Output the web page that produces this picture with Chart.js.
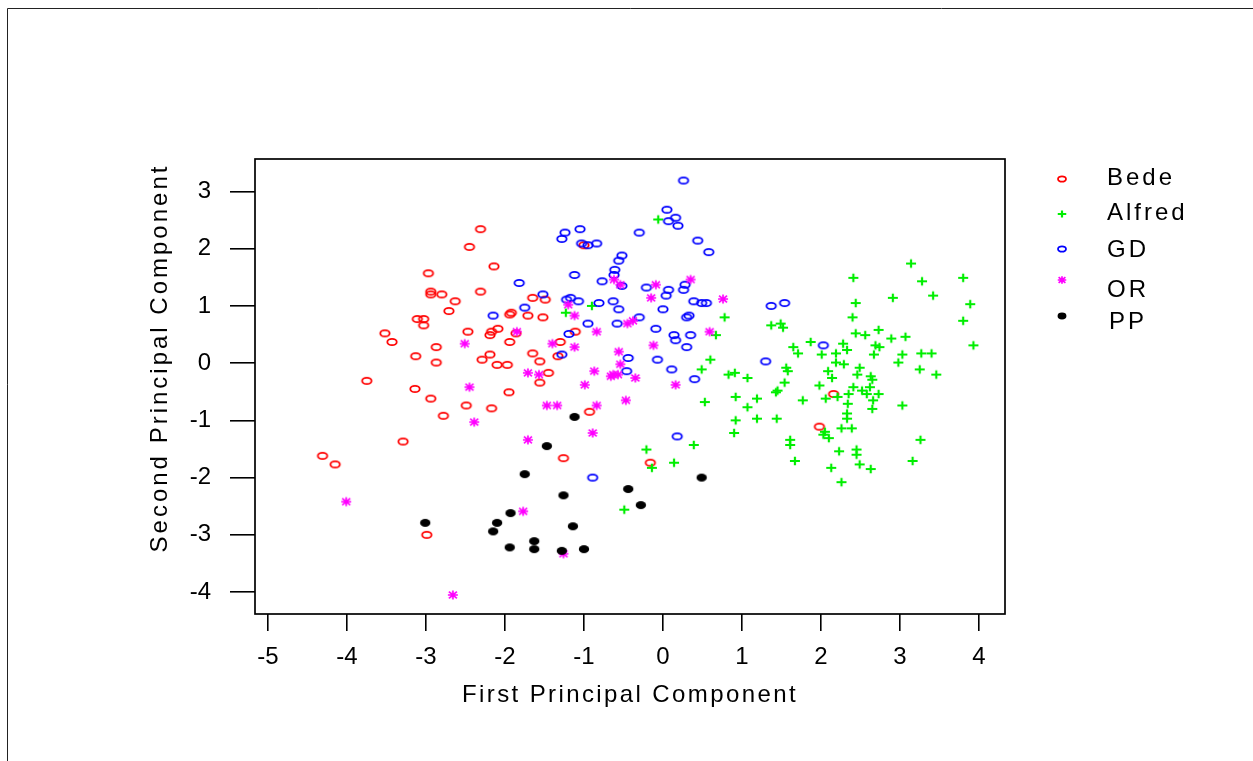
<!DOCTYPE html>
<html>
<head>
<meta charset="utf-8">
<title>Principal components by text</title>
<script src="https://cdn.jsdelivr.net/npm/chart.js@4.4.1/dist/chart.umd.min.js"></script>
<style>
    html, body { margin: 0; padding: 0; background: #fff; }
    #pca-chart { display: block; }
</style>
</head>
<body>
<canvas id="pca-chart" width="1253" height="761"></canvas>
<script>
// Scores on the first and second principal component, one list per text
const bedeScores = [
    [-2.31, 2.34], [-2.45, 2.03], [-2.14, 1.69], [-2.97, 1.57], [-2.94, 1.25], [-2.94, 1.20], [-2.80, 1.20], [-2.31, 1.25], [-2.63, 1.08], [-2.71, 0.91],
    [-3.11, 0.77], [-3.03, 0.77], [-3.03, 0.66], [-3.52, 0.52], [-3.43, 0.37], [-2.47, 0.55], [-2.19, 0.49], [-2.17, 0.55], [-2.09, 0.60], [-2.87, 0.28],
    [-3.13, 0.12], [-2.87, 0.01], [-2.29, 0.06], [-2.19, 0.15], [-2.10, -0.03], [-3.75, -0.31], [-3.14, -0.45], [-2.94, -0.62], [-2.49, -0.74], [-2.17, -0.79],
    [-2.78, -0.92], [-3.29, -1.37], [-4.31, -1.62], [-4.15, -1.77], [-2.99, -3.00], [-1.97, -0.03], [-1.95, -0.51], [-1.00, 2.06], [-1.65, 1.14], [-1.49, 1.11],
    [-1.94, 0.85], [-1.92, 0.88], [-1.71, 0.83], [-1.52, 0.80], [-1.86, 0.52], [-1.11, 0.55], [-1.94, 0.37], [-1.30, 0.37], [-1.65, 0.17], [-1.56, 0.03],
    [-1.33, 0.12], [-1.45, -0.17], [-1.56, -0.34], [-0.93, -0.85], [-1.26, -1.66], [-0.16, -1.74], [2.16, -0.54], [1.98, -1.11]
];
const alfredScores = [
    [-0.06, 2.51], [-0.90, 1.00], [-1.23, 0.88], [0.78, 0.80], [0.67, 0.49], [0.60, 0.06], [0.49, -0.11], [0.83, -0.20], [0.91, -0.17], [1.07, -0.26],
    [0.53, -0.68], [0.92, -0.59], [1.07, -0.77], [0.92, -1.00], [0.90, -1.22], [0.39, -1.43], [-0.21, -1.51], [-0.14, -1.83], [0.14, -1.74], [-0.49, -2.56],
    [3.14, 1.74], [2.41, 1.49], [3.28, 1.43], [3.80, 1.49], [3.42, 1.18], [2.91, 1.14], [3.89, 1.03], [2.44, 1.05], [2.40, 0.80], [3.80, 0.74],
    [1.37, 0.66], [1.49, 0.69], [1.52, 0.62], [2.44, 0.52], [2.56, 0.49], [2.73, 0.58], [2.89, 0.43], [3.07, 0.46], [1.87, 0.37], [2.28, 0.34],
    [2.33, 0.23], [2.19, 0.17], [2.69, 0.31], [2.74, 0.28], [1.65, 0.28], [1.71, 0.17], [2.01, 0.15], [2.67, 0.15], [3.03, 0.15], [3.27, 0.17],
    [3.40, 0.17], [3.93, 0.31], [2.19, 0.01], [2.29, -0.02], [2.98, 0.01], [1.56, -0.08], [1.58, -0.14], [2.09, -0.14], [2.14, -0.26], [2.49, -0.08],
    [2.46, -0.20], [2.63, -0.23], [2.65, -0.29], [3.25, -0.11], [3.46, -0.20], [1.54, -0.34], [1.98, -0.39], [2.41, -0.42], [2.62, -0.42], [1.45, -0.48],
    [1.43, -0.51], [2.52, -0.48], [2.58, -0.54], [2.73, -0.54], [2.21, -0.59], [2.35, -0.54], [2.06, -0.62], [1.19, -0.62], [1.77, -0.65], [2.66, -0.65],
    [2.65, -0.80], [2.34, -0.71], [3.03, -0.74], [2.33, -0.88], [2.33, -0.97], [1.19, -0.97], [1.44, -0.97], [2.05, -1.20], [2.03, -1.25], [2.10, -1.31],
    [2.26, -1.14], [2.39, -1.14], [1.61, -1.34], [1.61, -1.43], [3.26, -1.34], [2.23, -1.54], [2.45, -1.51], [2.45, -1.60], [1.67, -1.71], [3.16, -1.71],
    [2.13, -1.83], [2.49, -1.77], [2.63, -1.85], [2.26, -2.08]
];
const gdScores = [
    [-2.15, 0.83], [0.26, 3.19], [0.05, 2.68], [0.07, 2.48], [0.16, 2.54], [0.19, 2.40], [-0.30, 2.28], [-1.24, 2.28], [-1.28, 2.17], [-1.05, 2.34],
    [0.44, 2.14], [0.58, 1.94], [-1.03, 2.09], [-0.95, 2.06], [-0.84, 2.09], [-0.52, 1.88], [-0.56, 1.79], [-0.61, 1.63], [-0.62, 1.54], [-1.12, 1.54],
    [-0.77, 1.43], [-0.52, 1.35], [-1.82, 1.40], [-0.21, 1.32], [0.07, 1.28], [0.04, 1.18], [0.28, 1.37], [0.26, 1.28], [-1.52, 1.20], [-1.22, 1.11],
    [-1.17, 1.14], [-1.07, 1.08], [-0.81, 1.05], [-0.63, 1.08], [0.39, 1.08], [0.49, 1.05], [0.55, 1.05], [-1.75, 0.97], [-0.56, 0.94], [0.00, 0.94],
    [-0.30, 0.80], [0.30, 0.80], [0.33, 0.83], [-0.95, 0.69], [-0.58, 0.69], [-0.09, 0.60], [-1.19, 0.51], [0.14, 0.49], [0.16, 0.40], [0.35, 0.49],
    [0.30, 0.28], [-1.28, 0.15], [-0.44, 0.09], [-0.46, -0.14], [-0.07, 0.06], [0.11, -0.11], [0.40, -0.28], [0.18, -1.28], [-0.89, -2.00], [1.37, 1.00],
    [1.54, 1.05], [2.03, 0.31], [1.30, 0.03]
];
const orScores = [
    [-2.51, 0.34], [-2.45, -0.42], [-2.39, -1.03], [-4.01, -2.42], [-2.66, -4.05], [-0.62, 1.46], [-0.54, 1.37], [-0.09, 1.37], [0.35, 1.46], [-0.15, 1.14],
    [0.76, 1.12], [-1.20, 1.02], [-1.12, 0.83], [-0.45, 0.69], [-0.38, 0.74], [-1.85, 0.55], [-0.84, 0.55], [0.59, 0.55], [-1.40, 0.34], [-1.12, 0.28],
    [-0.12, 0.31], [-0.56, 0.20], [-0.54, -0.02], [-1.71, -0.17], [-1.57, -0.20], [-0.87, -0.14], [-0.66, -0.23], [-0.63, -0.20], [-0.57, -0.20], [-0.35, -0.26],
    [-0.99, -0.38], [0.16, -0.38], [-1.47, -0.74], [-1.34, -0.74], [-0.84, -0.74], [-0.47, -0.65], [-0.89, -1.22], [-1.71, -1.34], [-1.77, -2.59], [-1.26, -3.33]
];
const ppScores = [
    [-3.01, -2.79], [-2.10, -2.79], [-2.15, -2.94], [-1.12, -0.94], [-1.47, -1.45], [-1.75, -1.94], [0.49, -2.00], [-1.26, -2.31], [-0.44, -2.20], [-0.28, -2.48],
    [-1.93, -2.62], [-1.14, -2.85], [-1.63, -3.11], [-1.94, -3.22], [-1.63, -3.25], [-1.28, -3.28], [-1.00, -3.25]
];

const seriesNames = ['Bede', 'Alfred', 'GD', 'OR', 'PP'];
const xTickValues = [-5, -4, -3, -2, -1, 0, 1, 2, 3, 4];
const yTickValues = [-4, -3, -2, -1, 0, 1, 2, 3];
const xTitle = 'First Principal Component';
const yTitle = 'Second Principal Component';

const FONT = '"Liberation Sans", Arial, Helvetica, sans-serif';

// Small canvases used as point styles (R-like symbols)
function makeMarker(kind, color, s) {
    const c = document.createElement('canvas');
    c.width = 16;
    c.height = 14;
    const g = c.getContext('2d');
    const cx = 8, cy = 7;
    g.strokeStyle = color;
    g.fillStyle = color;
    g.lineCap = 'butt';
    if (kind === 'ring') {
        g.lineWidth = 1.8;
        g.beginPath();
        g.ellipse(cx, cy, 4.7 * s, 3.2 * s, 0, 0, Math.PI * 2);
        g.stroke();
    } else if (kind === 'dot') {
        g.beginPath();
        g.ellipse(cx, cy, 5.2 * s, 4 * s, 0, 0, Math.PI * 2);
        g.fill();
    } else if (kind === 'plus') {
        g.lineWidth = 2.2;
        g.beginPath();
        g.moveTo(cx - 5 * s, cy); g.lineTo(cx + 5 * s, cy);
        g.moveTo(cx, cy - 4.2 * s); g.lineTo(cx, cy + 4.2 * s);
        g.stroke();
    } else if (kind === 'star') {
        g.lineWidth = 1.7;
        g.beginPath();
        g.moveTo(cx - 5 * s, cy); g.lineTo(cx + 5 * s, cy);
        g.moveTo(cx, cy - 4.5 * s); g.lineTo(cx, cy + 4.5 * s);
        g.moveTo(cx - 4 * s, cy - 3.4 * s); g.lineTo(cx + 4 * s, cy + 3.4 * s);
        g.moveTo(cx - 4 * s, cy + 3.4 * s); g.lineTo(cx + 4 * s, cy - 3.4 * s);
        g.stroke();
    }
    return c;
}

const seriesStyle = [
    { kind: 'ring', color: '#ff0000' },
    { kind: 'plus', color: '#00ee00' },
    { kind: 'ring', color: '#0000ff' },
    { kind: 'star', color: '#ff00ff' },
    { kind: 'dot', color: '#000000' }
];
const allScores = [bedeScores, alfredScores, gdScores, orScores, ppScores];

const datasets = allScores.map((scores, i) => ({
    label: seriesNames[i],
    data: scores.map(p => ({ x: p[0], y: p[1] })),
    pointStyle: makeMarker(seriesStyle[i].kind, seriesStyle[i].color, 1),
    pointRadius: 5,
    // PP drawn last (on top), Bede first
    order: 5 - i
}));

// Plot frame, outer border, axis titles and legend
const decorations = {
    id: 'decorations',
    afterDraw(chart) {
        const ctx = chart.ctx;
        const area = chart.chartArea;
        ctx.save();

        // outer page frame (top and left edges)
        ctx.strokeStyle = '#222';
        ctx.lineWidth = 1;
        ctx.beginPath();
        ctx.moveTo(7.5, 761);
        ctx.lineTo(7.5, 8.5);
        ctx.lineTo(1253, 8.5);
        ctx.stroke();

        // box around the plot region
        ctx.strokeStyle = '#000';
        ctx.lineWidth = 1.7;
        ctx.strokeRect(area.left, area.top, area.right - area.left, area.bottom - area.top);

        // axis titles
        ctx.fillStyle = '#000';
        ctx.font = '24px ' + FONT;
        ctx.textBaseline = 'middle';
        ctx.textAlign = 'center';
        ctx.letterSpacing = '2.4px';
        ctx.fillText(xTitle, (area.left + area.right) / 2, 695);

        ctx.save();
        ctx.translate(160, 358);
        ctx.rotate(-Math.PI / 2);
        ctx.letterSpacing = '3px';
        ctx.fillText(yTitle, 0, 0);
        ctx.restore();

        // legend
        const markerY = [179, 214, 249, 280, 316];
        const textY = [178, 213, 250, 290, 322];
        const textX = [1107, 1107, 1107, 1107, 1109];
        ctx.textAlign = 'left';
        ctx.letterSpacing = '3px';
        seriesNames.forEach((name, i) => {
            const m = makeMarker(seriesStyle[i].kind, seriesStyle[i].color, 0.85);
            ctx.drawImage(m, 1062 - m.width / 2, markerY[i] - m.height / 2);
            ctx.fillText(name, textX[i], textY[i]);
        });
        ctx.letterSpacing = '0px';
        ctx.restore();
    }
};

const ctx = document.getElementById('pca-chart').getContext('2d');
const pcaChart = new Chart(ctx, {
    type: 'scatter',
    data: { datasets: datasets },
    options: {
        responsive: false,
        animation: false,
        events: [],
        layout: {
            padding: { left: 0, top: 159, right: 248, bottom: 0 }
        },
        plugins: {
            legend: { display: false },
            tooltip: { enabled: false }
        },
        scales: {
            x: {
                type: 'linear',
                position: 'bottom',
                min: -5.165,
                max: 4.33,
                afterBuildTicks: scale => { scale.ticks = xTickValues.map(v => ({ value: v })); },
                afterFit: scale => { scale.height = 147; },
                grid: {
                    drawOnChartArea: false,
                    drawTicks: true,
                    tickLength: 17,
                    color: '#000',
                    lineWidth: 1.6
                },
                border: { display: false },
                ticks: {
                    color: '#000',
                    font: { family: FONT, size: 24 },
                    padding: 12,
                    maxRotation: 0,
                    autoSkip: false,
                    callback: v => String(v)
                }
            },
            y: {
                type: 'linear',
                position: 'left',
                min: -4.383,
                max: 3.566,
                afterBuildTicks: scale => { scale.ticks = yTickValues.map(v => ({ value: v })); },
                afterFit: scale => { scale.width = 255; },
                grid: {
                    drawOnChartArea: false,
                    drawTicks: true,
                    tickLength: 25,
                    color: '#000',
                    lineWidth: 1.6
                },
                border: { display: false },
                ticks: {
                    color: '#000',
                    font: { family: FONT, size: 24 },
                    padding: 19,
                    autoSkip: false,
                    callback: v => String(v)
                }
            }
        }
    },
    plugins: [decorations]
});
</script>
</body>
</html>
